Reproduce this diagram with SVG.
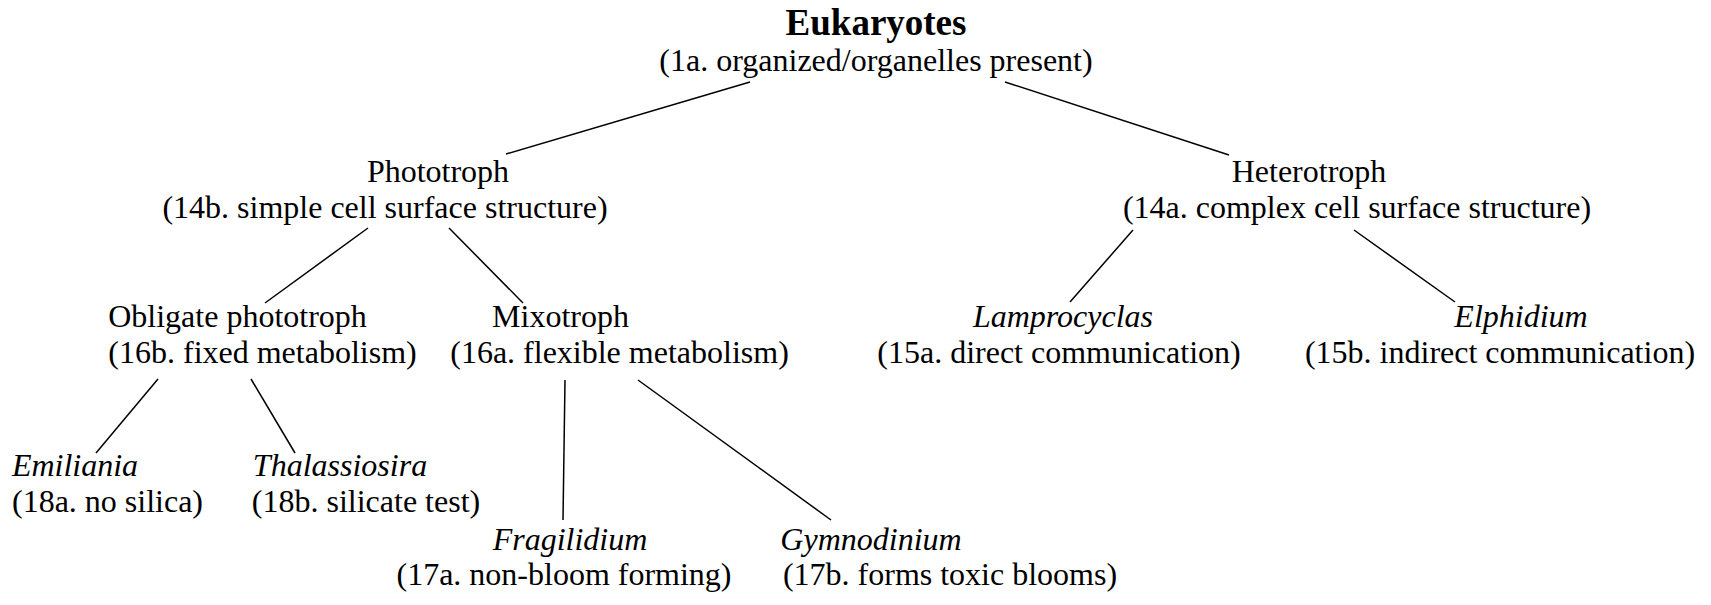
<svg xmlns="http://www.w3.org/2000/svg" width="1711" height="605" viewBox="0 0 1711 605">
<style>
text{font-family:"Liberation Serif","Times New Roman",serif;font-size:32px;fill:#000;text-anchor:middle}
.b{font-weight:bold;font-size:37px}
.i{font-style:italic}
line{stroke:#000;stroke-width:1.5}
</style>
<rect width="1711" height="605" fill="#fff"/>
<g id="connectors">
<line x1="750" y1="82" x2="506" y2="154"/>
<line x1="1005" y1="82" x2="1229" y2="155"/>
<line x1="368" y1="228" x2="265" y2="303"/>
<line x1="449" y1="228" x2="523" y2="303"/>
<line x1="1133" y1="230" x2="1070" y2="302"/>
<line x1="1354" y1="230" x2="1455" y2="302"/>
<line x1="158" y1="379" x2="96" y2="453"/>
<line x1="251" y1="379" x2="295" y2="453"/>
<line x1="565" y1="380" x2="563" y2="520"/>
<line x1="638" y1="380" x2="831" y2="520"/>
</g>
<g id="eukaryotes"><text class="b" x="876" y="35">Eukaryotes</text><text x="876" y="71">(1a. organized/organelles present)</text></g>
<g id="phototroph"><text x="438" y="182">Phototroph</text><text x="385" y="218">(14b. simple cell surface structure)</text></g>
<g id="heterotroph"><text x="1309" y="182">Heterotroph</text><text x="1357" y="218">(14a. complex cell surface structure)</text></g>
<g id="obligate"><text x="237.5" y="327">Obligate phototroph</text><text x="262.5" y="363">(16b. fixed metabolism)</text></g>
<g id="mixotroph"><text x="560.5" y="327">Mixotroph</text><text x="619.5" y="363">(16a. flexible metabolism)</text></g>
<g id="lamprocyclas"><text class="i" x="1063" y="327">Lamprocyclas</text><text x="1059" y="363">(15a. direct communication)</text></g>
<g id="elphidium"><text class="i" x="1521" y="327">Elphidium</text><text x="1500" y="363">(15b. indirect communication)</text></g>
<g id="emiliania"><text class="i" x="75" y="476">Emiliania</text><text x="107.5" y="512">(18a. no silica)</text></g>
<g id="thalassiosira"><text class="i" x="340" y="476">Thalassiosira</text><text x="366" y="512">(18b. silicate test)</text></g>
<g id="fragilidium"><text class="i" x="570" y="550">Fragilidium</text><text x="564" y="585">(17a. non-bloom forming)</text></g>
<g id="gymnodinium"><text class="i" x="871" y="550">Gymnodinium</text><text x="950" y="585">(17b. forms toxic blooms)</text></g>
</svg>
